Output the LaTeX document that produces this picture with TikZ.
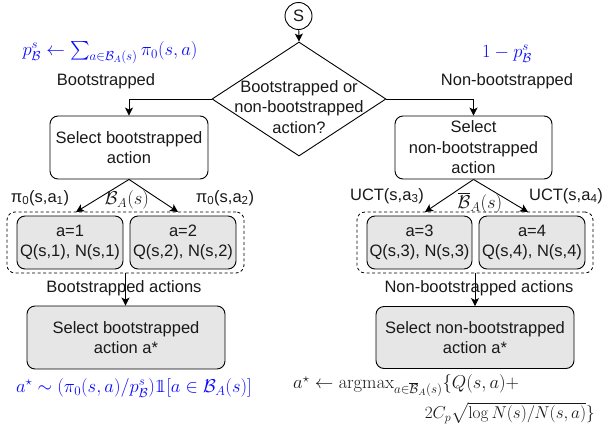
\RequirePackage{fix-cm}
\documentclass[tikz,border=0pt]{standalone}
\usepackage{amsmath,amssymb}
\usepackage[no-math]{fontspec}
\setmainfont{Liberation Sans}
\usetikzlibrary{shapes.geometric,arrows.meta,calc}
\definecolor{mblue}{RGB}{10,10,255}
\definecolor{boxgray}{RGB}{230,230,230}
\newcommand{\indic}{\mathrm{1}\mkern-5.5mu\mathrm{1}}
\begin{document}
\begin{tikzpicture}[x=1pt,y=-1pt,
  every node/.style={font=\fontsize{16.5}{20.5}\selectfont, inner sep=0pt, text=black!90},
  box/.style={draw, rounded corners=8pt, align=center, line width=0.9pt},
  graybox/.style={box, fill=boxgray},
  grp/.style={draw, dash pattern=on 3pt off 2.5pt, rounded corners=8pt, line width=0.8pt},
  arr/.style={-{Stealth[length=8pt,width=8pt,inset=2pt]}, line width=0.9pt},
  mathfont/.style={font=\fontsize{18.6}{22}\selectfont},
  mathlbl/.style={mathfont, text=mblue},
]
\useasboundingbox (0,0) rectangle (613,434);

% start and decision
\node[draw, circle, minimum size=27pt, line width=0.9pt] (S) at (298.5,16) {S};
\node[draw, diamond, minimum width=174pt, minimum height=114pt, line width=0.9pt] (D) at (299,99) {};
\node[align=center] (Dt) at (299,107) {Bootstrapped or\\non-bootstrapped\\action?};

% first level boxes
\node[box, minimum width=158pt, minimum height=63pt] (L1) at (129,147.5) {Select bootstrapped\\action};
\node[box, minimum width=157pt, minimum height=63pt] (R1) at (473.5,147.5) {Select\\non-bootstrapped\\action};

% groups
\node[grp, minimum width=237pt, minimum height=61pt] (GL) at (125.5,242.5) {};
\node[grp, minimum width=236pt, minimum height=61pt] (GR) at (475,242.5) {};

\node[graybox, minimum width=106pt, minimum height=53pt] (A1) at (70,242.5) {a=1\\Q(s,1), N(s,1)};
\node[graybox, minimum width=106pt, minimum height=53pt] (A2) at (183,242.5) {a=2\\Q(s,2), N(s,2)};
\node[graybox, minimum width=105pt, minimum height=53pt] (A3) at (419.5,242.5) {a=3\\Q(s,3), N(s,3)};
\node[graybox, minimum width=106pt, minimum height=53pt] (A4) at (532,242.5) {a=4\\Q(s,4), N(s,4)};

% bottom boxes
\node[graybox, minimum width=198pt, minimum height=63pt] (L2) at (126,337.5) {Select bootstrapped\\action a*};
\node[graybox, minimum width=198pt, minimum height=62pt] (R2) at (475,337.5) {Select non-bootstrapped\\action a*};

% arrow targets on group tops
\coordinate (t1) at (76,212);
\coordinate (t2) at (178,212);
\coordinate (t3) at (425,212);
\coordinate (t4) at (528,212);

% connectors
\draw[arr] (S) -- (D.north);
\draw[arr] (D.west) -| (L1.north);
\draw[arr] (D.east) -| (R1.north);
\draw[arr] (L1.south) -- (t1);
\draw[arr] (L1.south) -- (t2);
\draw[arr] (R1.south) -- (t3);
\draw[arr] (R1.south) -- (t4);
\draw[arr] (GL.south) -- (GL.south |- L2.north);
\draw[arr] (GR.south) -- (GR.south |- R2.north);

% labels
\node (lb) at (106,81) {Bootstrapped};
\node (ln) at (507,81) {Non-bootstrapped};
\node[mathlbl] (fl) at (110,53) {$p^s_{\mathcal{B}} \leftarrow \sum_{a\in\mathcal{B}_A(s)} \pi_0(s,a)$};
\node[mathlbl] (fr) at (507,54) {$1-p^s_{\mathcal{B}}$};

\node (e1) at (40,198) {π\textsubscript{0}(s,a\textsubscript{1})};
\node[mathfont] (e2) at (127,200) {$\mathcal{B}_A(s)$};
\node (e3) at (225,198) {π\textsubscript{0}(s,a\textsubscript{2})};
\node (e4) at (387,196) {UCT(s,a\textsubscript{3})};
\node[mathfont] (e5) at (480,203) {$\overline{\mathcal{B}}_A(s)$};
\node (e6) at (566,196) {UCT(s,a\textsubscript{4})};

\node (ba) at (124,288) {Bootstrapped actions};
\node (nba) at (479,288) {Non-bootstrapped actions};

\node[mathlbl] (fb) at (134,388) {$a^\star \sim (\pi_0(s,a)/p^s_{\mathcal{B}})\indic[a\in\mathcal{B}_A(s)]$};
\node[mathfont, anchor=west] (fr1) at (293,386) {$a^\star \leftarrow \operatorname{argmax}_{a\in\overline{\mathcal{B}}_A(s)}\{Q(s,a)+$};
\node[font=\fontsize{17.2}{21}\selectfont, anchor=east] (fr2) at (595,413) {$2C_p\sqrt{\log N(s)/N(s,a)}\}$};
\end{tikzpicture}
\end{document}
